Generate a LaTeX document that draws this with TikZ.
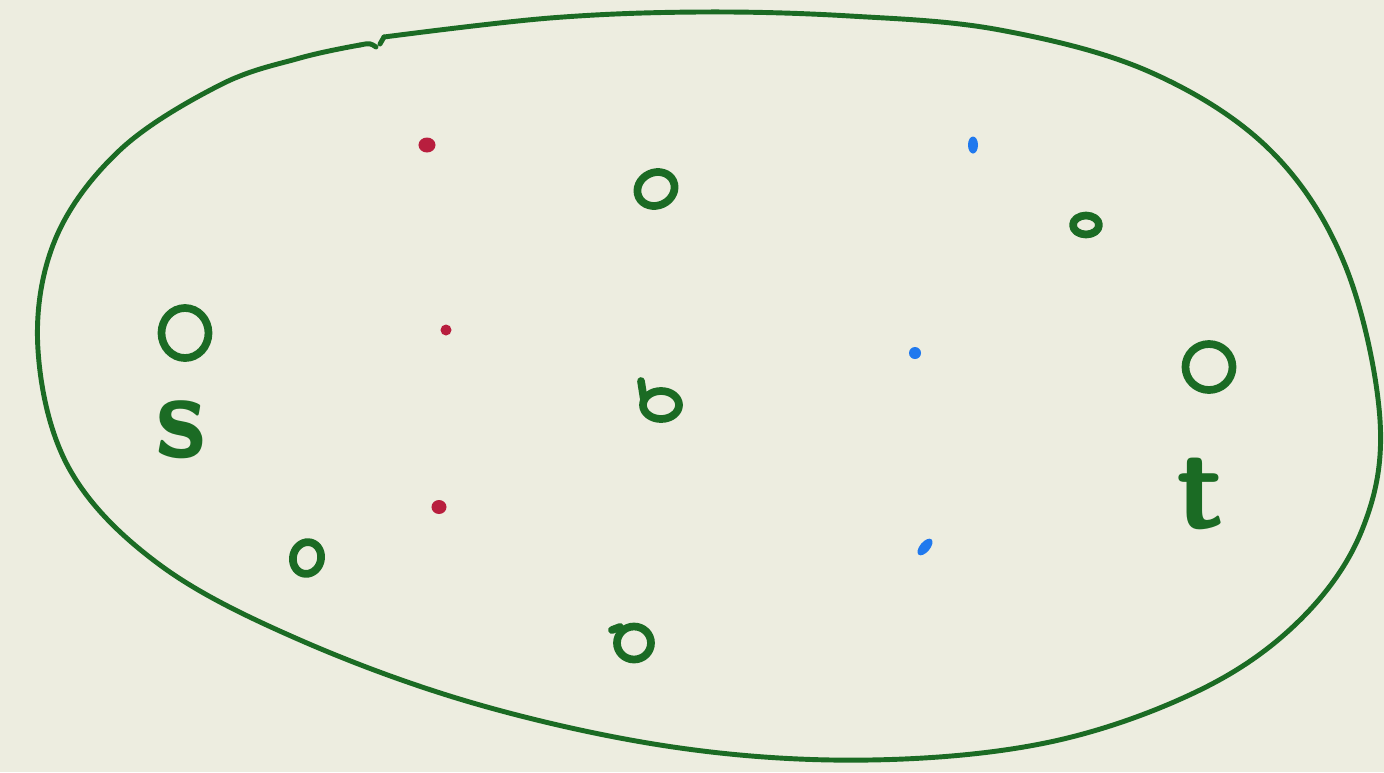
\documentclass[tikz,border=0pt]{standalone}
\usepackage{tikz}
\usetikzlibrary{shapes.geometric}
\definecolor{paper}{HTML}{EDEDE0}
\definecolor{pen}{HTML}{1B6B24}
\definecolor{dotred}{HTML}{B81E3E}
\definecolor{dotblue}{HTML}{2079EE}
\tikzset{
  vtx/.style={ellipse, draw=pen, line width=2.2pt, inner sep=0pt},
  dot/.style={ellipse, inner sep=0pt},
  lbl/.style={text=pen, font=\sffamily\bfseries\fontsize{34}{34}\selectfont, inner sep=0pt}
}
\begin{document}
\begin{tikzpicture}[x=0.01cm, y=-0.01cm, line cap=round, line join=round]
  % paper
  \fill[paper] (0,0) rectangle (1384,772);
  \useasboundingbox (0,0) rectangle (1384,772);
  % outline of the set
  \draw[pen, line width=1.4pt] plot[smooth, tension=0.6] coordinates {
    (384,37) (550,18) (700,12) (850,16) (1000,30) (1150,72)
    (1270,150) (1345,265) (1380,420) (1362,530) (1300,620) (1200,690)
    (1050,742) (870,760) (680,748) (480,705) (300,640) (160,565)
    (70,470) (38,350) (55,240) (120,150) (220,85) (300,58) (360,45)};
  \draw[pen, line width=1.4pt] (360,45) .. controls (370,43) .. (376,47);
  \draw[pen, line width=1.4pt] (380,44) -- (384,37);
  % vertices
  \node[vtx, minimum width=0.47cm, minimum height=0.5cm] (a) at (185,333) {};
  \node[vtx, minimum width=0.38cm, minimum height=0.33cm, rotate=25] (b) at (656,189) {};
  \node[vtx, minimum width=0.36cm, minimum height=0.28cm] (c) at (661,405) {};
  \draw[pen, line width=2.2pt] (641,381) -- (644,400);
  \node[vtx, minimum width=0.26cm, minimum height=0.19cm] (d) at (1086,225) {};
  \node[vtx, minimum width=0.47cm, minimum height=0.46cm] (e) at (1209,367) {};
  \node[vtx, minimum width=0.28cm, minimum height=0.32cm, rotate=-15] (f) at (307,558) {};
  \node[vtx, minimum width=0.34cm, minimum height=0.33cm] (g) at (634,643) {};
  \draw[pen, line width=2.2pt] (612,630) -- (620,627);
  % red and blue marks
  \node[dot, fill=dotred, minimum width=0.17cm, minimum height=0.15cm] (r1) at (427,145) {};
  \node[dot, fill=dotred, minimum width=0.11cm, minimum height=0.11cm] (r2) at (446,330) {};
  \node[dot, fill=dotred, minimum width=0.15cm, minimum height=0.14cm] (r3) at (439,507) {};
  \node[dot, fill=dotblue, minimum width=0.10cm, minimum height=0.17cm] (b1) at (973,145) {};
  \node[dot, fill=dotblue, minimum width=0.12cm, minimum height=0.12cm] (b2) at (915,353) {};
  \node[dot, fill=dotblue, minimum width=0.10cm, minimum height=0.20cm, rotate=-40] (b3) at (925,547) {};
  % labels
  \node[lbl] (s) at (181,430) {s};
  \node[lbl] (t) at (1201,494) {t};
\end{tikzpicture}
\end{document}
